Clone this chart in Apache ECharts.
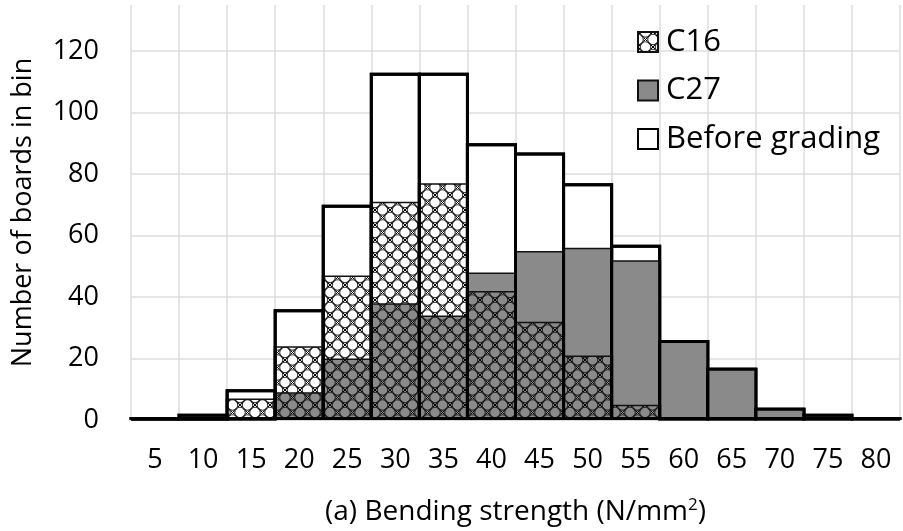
<!DOCTYPE html>
<html>
<head>
<meta charset="utf-8">
<script src="https://cdn.jsdelivr.net/npm/echarts@6/dist/echarts.min.js"></script>
<style>
  html, body { margin: 0; padding: 0; background: #fff; }
  #chart { width: 903px; height: 531px; }
</style>
</head>
<body>
<div id="chart"></div>
<script>
// Bin labels: bending strength class (N/mm²)
const bins = ['5', '10', '15', '20', '25', '30', '35', '40', '45', '50', '55', '60', '65', '70', '75', '80'];
// Number of boards in each bin
const beforeGrading = [1, 2, 10, 36, 70, 113, 113, 90, 87, 77, 57, 26, 17, 4, 2, 1];
const c27 = [0, 0, 0, 9, 20, 38, 34, 48, 55, 56, 52, 26, 17, 4, 1, 1];
const c16 = [0, 0, 7, 24, 47, 71, 77, 42, 32, 21, 5, 0, 0, 0, 0, 0];
const yTicks = [0, 20, 40, 60, 80, 100, 120];

const FONT = 'Open Sans';
const W = 903, GRID_LEFT = 131, GRID_RIGHT = 3;
const OUTLINE = 3;
// ECharts insets bar borders; widen each bar by the border so neighbouring
// outlines meet on the bin edge as one line
const binWidth = (W - GRID_LEFT - GRID_RIGHT) / bins.length;
const barW = binWidth + OUTLINE;

// Lattice fill used for the C16 bars: touching circles with small node marks
function makeLattice(size) {
  const c = document.createElement('canvas');
  c.width = size; c.height = size;
  const g = c.getContext('2d');
  g.strokeStyle = 'rgba(20,20,20,0.9)';
  g.lineWidth = 1.1;
  const r = size / (2 * Math.SQRT2);
  [[size / 2, 0], [0, size / 2], [size, size / 2], [size / 2, size]].forEach(([x, y]) => {
    g.beginPath();
    g.arc(x, y, r, 0, 2 * Math.PI);
    g.stroke();
  });
  g.strokeStyle = '#000';
  g.lineWidth = 1;
  [[0, 0], [size, 0], [0, size], [size, size], [size / 2, size / 2]].forEach(([x, y]) => {
    g.beginPath();
    g.moveTo(x - 2, y - 2); g.lineTo(x + 2, y + 2);
    g.moveTo(x + 2, y - 2); g.lineTo(x - 2, y + 2);
    g.stroke();
  });
  return c;
}
const lattice = { image: makeLattice(15), repeat: 'repeat' };

const chart = echarts.init(document.getElementById('chart'), null, { renderer: 'canvas' });

const barCommon = {
  type: 'bar',
  barWidth: barW,
  barGap: '-100%',
  barCategoryGap: 0,
  animation: false,
  emphasis: { disabled: true }
};

chart.setOption({
  backgroundColor: '#ffffff',
  animation: false,
  grid: { left: GRID_LEFT, right: GRID_RIGHT, top: 5, bottom: 107.5, containLabel: false },
  legend: {
    orient: 'vertical',
    left: 632,
    top: 20,
    itemWidth: 20,
    itemHeight: 20,
    itemGap: 14.5,
    icon: 'rect',
    selectedMode: false,
    data: ['C16', 'C27', 'Before grading'],
    textStyle: { fontFamily: FONT, fontSize: 31, color: '#000', lineHeight: 34, padding: [0, 0, 0, 3] }
  },
  xAxis: {
    type: 'category',
    data: bins,
    boundaryGap: true,
    axisLine: { show: true, lineStyle: { color: '#d9d9d9', width: 1 } },
    axisTick: { show: false },
    axisLabel: { fontFamily: FONT, fontSize: 27, color: '#000', margin: 27 },
    splitLine: { show: true, lineStyle: { color: '#dcdcdc', width: 1.5 } },
    name: '(a) Bending strength (N/mm{sup|2})',
    nameLocation: 'middle',
    nameGap: 77,
    nameTextStyle: {
      fontFamily: FONT, fontSize: 28, color: '#000', verticalAlign: 'top',
      rich: { sup: { fontFamily: FONT, fontSize: 17, color: '#000', padding: [0, 0, 13, 0] } }
    }
  },
  yAxis: {
    type: 'value',
    min: 0,
    max: 135,
    interval: 20,
    axisLine: { show: false },
    axisTick: { show: false },
    axisLabel: {
      fontFamily: FONT, fontSize: 27, color: '#000', margin: 32,
      showMaxLabel: false,
      formatter: v => (yTicks.indexOf(v) >= 0 ? String(v) : '')
    },
    splitLine: { show: true, showMaxLine: false, lineStyle: { color: '#dcdcdc', width: 1.5 } },
    name: 'Number of boards in bin',
    nameLocation: 'middle',
    nameGap: 94,
    nameTextStyle: { fontFamily: FONT, fontSize: 27, color: '#000' }
  },
  series: [
    Object.assign({}, barCommon, {
      name: 'Before grading',
      data: beforeGrading,
      z: 2,
      itemStyle: { color: '#ffffff', borderColor: '#000', borderWidth: OUTLINE }
    }),
    Object.assign({}, barCommon, {
      name: 'C27',
      data: c27,
      z: 3,
      itemStyle: { color: '#8a8a8a', borderColor: '#111', borderWidth: 1.5 }
    }),
    Object.assign({}, barCommon, {
      name: 'C16',
      data: c16,
      z: 4,
      itemStyle: { color: lattice, borderColor: '#111', borderWidth: 1.5 }
    }),
    // Outline of the ungraded totals, drawn over the graded fills
    Object.assign({}, barCommon, {
      name: 'outline',
      data: beforeGrading,
      z: 5,
      silent: true,
      itemStyle: { color: 'rgba(0,0,0,0)', borderColor: '#000', borderWidth: OUTLINE }
    })
  ]
});
</script>
</body>
</html>
